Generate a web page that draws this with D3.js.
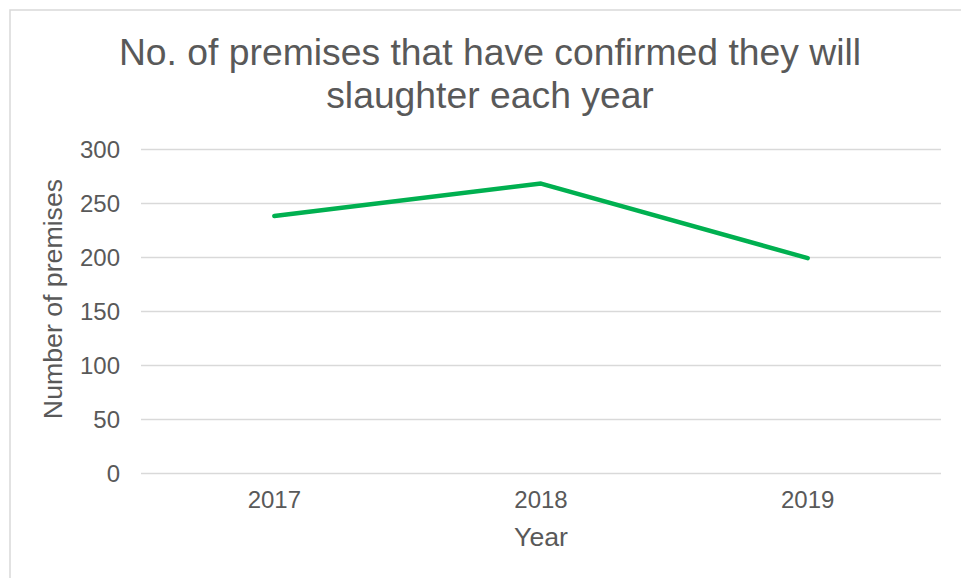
<!DOCTYPE html>
<html>
<head>
<meta charset="utf-8">
<script src="https://cdn.jsdelivr.net/npm/d3@7"></script>
<style>
  body{margin:0;background:#fff;}
  svg{display:block;font-family:"Liberation Sans",Arial,sans-serif;}
</style>
</head>
<body>
<svg width="961" height="578"></svg>
<script>
// data
var years=['2017','2018','2019'];
var premises=[238,268,199];
var yTicks=[0,50,100,150,200,250,300];
var titleLines=['No. of premises that have confirmed they will','slaughter each year'];

var svg=d3.select('svg');
var margin={top:149,bottom:105,left:141,right:20};
var plotWidth=961-margin.left-margin.right;
var plotHeight=578-margin.top-margin.bottom;

// chart area border
svg.append('path')
  .attr('d','M10,578V10H961')
  .attr('fill','none')
  .attr('stroke','#d9d9d9')
  .attr('stroke-width',1.5);

svg.selectAll('text.title')
  .data(titleLines)
  .enter().append('text')
  .attr('class','title')
  .attr('x',490)
  .attr('y',function(d,i){return 65+i*43;})
  .attr('text-anchor','middle')
  .attr('font-size','37.3px')
  .attr('fill','#595959')
  .text(function(d){return d;});

var xScale=d3.scaleBand()
  .domain(years)
  .range([0,plotWidth]);
var yScale=d3.scaleLinear()
  .domain([0,300])
  .range([plotHeight,0]);

var plot=svg.append('g')
  .attr('transform','translate('+margin.left+','+margin.top+')');

// gridlines
var yAxis=d3.axisLeft(yScale).tickValues(yTicks).tickSize(-plotWidth).tickPadding(21);
var yGroup=plot.append('g').attr('id','y-axis').call(yAxis);
yGroup.select('.domain').remove();
yGroup.selectAll('line').attr('stroke','#d9d9d9').attr('stroke-width',1.5);
yGroup.selectAll('text')
  .attr('font-size','24px')
  .attr('font-family','"Liberation Sans",Arial,sans-serif')
  .attr('fill','#595959')
  .attr('dy','0.35em');

var xAxis=d3.axisBottom(xScale).tickSize(0).tickPadding(18);
var xGroup=plot.append('g').attr('id','x-axis')
  .attr('transform','translate(0,'+plotHeight+')')
  .call(xAxis);
xGroup.select('.domain').remove();
xGroup.selectAll('text')
  .attr('font-size','24px')
  .attr('font-family','"Liberation Sans",Arial,sans-serif')
  .attr('fill','#595959');

var line=d3.line()
  .x(function(d,i){return xScale(years[i])+xScale.bandwidth()/2;})
  .y(function(d){return yScale(d);});

plot.append('path')
  .datum(premises)
  .attr('d',line)
  .attr('fill','none')
  .attr('stroke','#00b050')
  .attr('stroke-width',4.5)
  .attr('stroke-linecap','round')
  .attr('stroke-linejoin','round');

// axis titles
svg.append('text')
  .attr('text-anchor','middle')
  .attr('transform','translate(62,299)rotate(-90)')
  .attr('font-size','26.7px')
  .attr('fill','#595959')
  .text('Number of premises');

svg.append('text')
  .attr('text-anchor','middle')
  .attr('x',margin.left+plotWidth/2)
  .attr('y',546)
  .attr('font-size','26.7px')
  .attr('fill','#595959')
  .text('Year');
</script>
</body>
</html>
